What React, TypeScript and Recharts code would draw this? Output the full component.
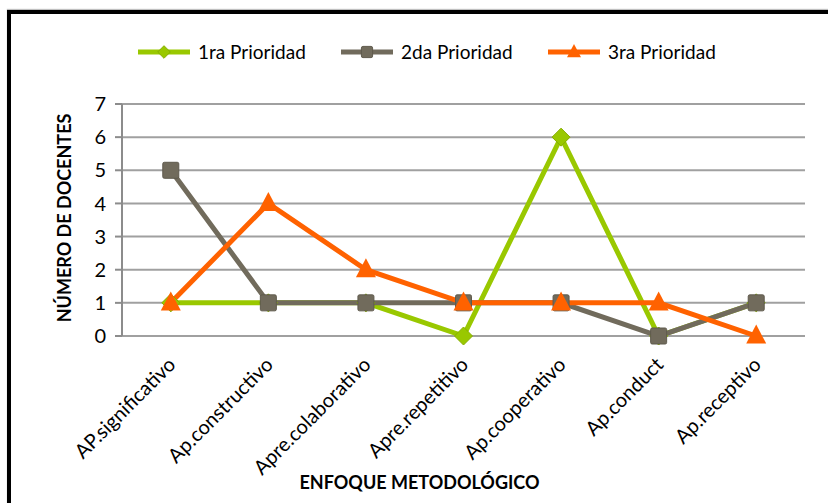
import React from 'react';
import { LineChart, Line, XAxis, YAxis, CartesianGrid, Legend, Label } from 'recharts';

const CATEGORIES = [
  'AP.significativo',
  'Ap.constructivo',
  'Apre.colaborativo',
  'Apre.repetitivo',
  'Ap.cooperativo',
  'Ap.conduct',
  'Ap.receptivo',
];
const PRIORIDAD_1 = [1, 1, 1, 0, 6, 0, 1];
const PRIORIDAD_2 = [5, 1, 1, 1, 1, 0, 1];
const PRIORIDAD_3 = [1, 4, 2, 1, 1, 1, 0];
const Y_TICKS = [0, 1, 2, 3, 4, 5, 6, 7];

const GREEN = '#99C800';
const GRAY = '#716B5C';
const ORANGE = '#FF6200';
const FONT = 'Lato, "Open Sans", sans-serif';

const SERIES = [
  { key: 'p1', name: '1ra Prioridad', color: GREEN, shape: 'diamond' },
  { key: 'p2', name: '2da Prioridad', color: GRAY, shape: 'square' },
  { key: 'p3', name: '3ra Prioridad', color: ORANGE, shape: 'triangle' },
];

// numeric x so the tick marks can sit on category boundaries like Excel
const data = CATEGORIES.map((c, i) => ({
  x: i + 0.5,
  cat: c,
  p1: PRIORIDAD_1[i],
  p2: PRIORIDAD_2[i],
  p3: PRIORIDAD_3[i],
}));
const BOUNDARY_TICKS = CATEGORIES.map((_, i) => i).concat(CATEGORIES.length);
const CENTER_TICKS = data.map((d) => d.x);

function Marker({ cx, cy, shape, color, small }: any) {
  if (cx == null || cy == null) return null;
  const k = small ? 0.7 : 1;
  if (shape === 'diamond') {
    const r = 9 * k;
    return <polygon points={`${cx},${cy - r} ${cx + r},${cy} ${cx},${cy + r} ${cx - r},${cy}`} fill={color} stroke="#86AE00" strokeWidth={1} />;
  }
  if (shape === 'square') {
    const s = 16 * k;
    return <rect x={cx - s / 2} y={cy - s / 2} width={s} height={s} rx={1.5} fill={color} stroke="#5F5A4D" strokeWidth={1} />;
  }
  const w = 20 * k, h = 19 * k;
  return <polygon points={`${cx},${cy - h * 0.6} ${cx + w / 2},${cy + h * 0.4} ${cx - w / 2},${cy + h * 0.4}`} fill={color} />;
}

function CatTick({ x, y, payload }: any) {
  const i = Math.round(payload.value - 0.5);
  return (
    <text
      transform={`translate(${x + 6},${y + 22}) rotate(-45)`}
      textAnchor="end"
      fontFamily={FONT}
      fontSize={20}
      fill="#000"
    >
      {CATEGORIES[i]}
    </text>
  );
}

function LegendIcon({ shape, color }: any) {
  return (
    <svg width={52} height={20} style={{ display: 'block' }}>
      <line x1={0} y1={10} x2={52} y2={10} stroke={color} strokeWidth={5} />
      <Marker cx={26} cy={10} shape={shape} color={color} small />
    </svg>
  );
}

function TopLegend() {
  const lefts = [138, 341, 548];
  return (
    <div style={{ position: 'relative', height: 24 }}>
      {SERIES.map((s, i) => (
        <div
          key={s.key}
          style={{ position: 'absolute', left: lefts[i], top: 0, display: 'flex', alignItems: 'center' }}
        >
          <LegendIcon shape={s.shape} color={s.color} />
          <span style={{ marginLeft: 8, fontFamily: FONT, fontSize: 19, color: '#000' }}>{s.name}</span>
        </div>
      ))}
    </div>
  );
}

export default function App() {
  return (
    <div style={{ position: 'absolute', left: 0, top: 0, width: 828, height: 503, background: '#fff', overflow: 'hidden' }}>
      <div
        style={{
          position: 'absolute',
          left: 7,
          top: 10,
          width: 830,
          height: 510,
          borderLeft: '4px solid #000',
          borderTop: '4px solid #000',
          boxShadow: '0 -1px 1px rgba(0,0,0,0.25)',
        }}
      />
      <LineChart
        width={828}
        height={503}
        data={data}
        margin={{ top: 80, right: 23, bottom: 0, left: 0 }}
        style={{ position: 'absolute', left: 0, top: 0 }}
      >
        <CartesianGrid vertical={false} stroke="#A0A0A0" strokeWidth={2} />
        <XAxis
          xAxisId="b"
          dataKey="x"
          type="number"
          domain={[0, CATEGORIES.length]}
          ticks={BOUNDARY_TICKS}
          interval={0}
          height={0}
          tick={() => <g />}
          tickSize={8}
          tickLine={{ stroke: '#8C8C8C', strokeWidth: 2 }}
          axisLine={{ stroke: '#8C8C8C', strokeWidth: 2 }}
        />
        <XAxis
          xAxisId="c"
          dataKey="x"
          type="number"
          domain={[0, CATEGORIES.length]}
          ticks={CENTER_TICKS}
          interval={0}
          height={167}
          tick={<CatTick />}
          tickLine={false}
          axisLine={false}
        >
          <Label
            content={({ viewBox }: any) => (
              <text
                x={viewBox.x + viewBox.width / 2 - 44}
                y={viewBox.y + viewBox.height - 14}
                textAnchor="middle"
                fontFamily={FONT}
                fontWeight={700}
                fontSize={18}
                fill="#000"
              >
                ENFOQUE METODOLÓGICO
              </text>
            )}
          />
        </XAxis>
        <YAxis
          width={122}
          domain={[0, 7]}
          ticks={Y_TICKS}
          interval={0}
          tickSize={7}
          tickMargin={9}
          tick={{ fontFamily: FONT, fontSize: 20, fill: '#000' }}
          tickLine={{ stroke: '#8C8C8C', strokeWidth: 2 }}
          axisLine={{ stroke: '#8C8C8C', strokeWidth: 2 }}
        >
          <Label
            content={({ viewBox }: any) => (
              <text
                transform={`translate(71,${viewBox.y + viewBox.height / 2 - 2}) rotate(-90)`}
                textAnchor="middle"
                fontFamily={FONT}
                fontWeight={700}
                fontSize={18}
                fill="#000"
              >
                NÚMERO DE DOCENTES
              </text>
            )}
          />
        </YAxis>
        <Legend
          verticalAlign="top"
          align="left"
          content={() => <TopLegend />}
          wrapperStyle={{ top: 40, left: 0, width: 828 }}
        />
        {SERIES.map((s) => (
          <Line
            key={s.key}
            xAxisId="b"
            dataKey={s.key}
            name={s.name}
            stroke={s.color}
            strokeWidth={5}
            dot={(p: any) => <Marker key={`${s.key}-${p.index}`} cx={p.cx} cy={p.cy} shape={s.shape} color={s.color} />}
            activeDot={false}
            isAnimationActive={false}
          />
        ))}
      </LineChart>
    </div>
  );
}
